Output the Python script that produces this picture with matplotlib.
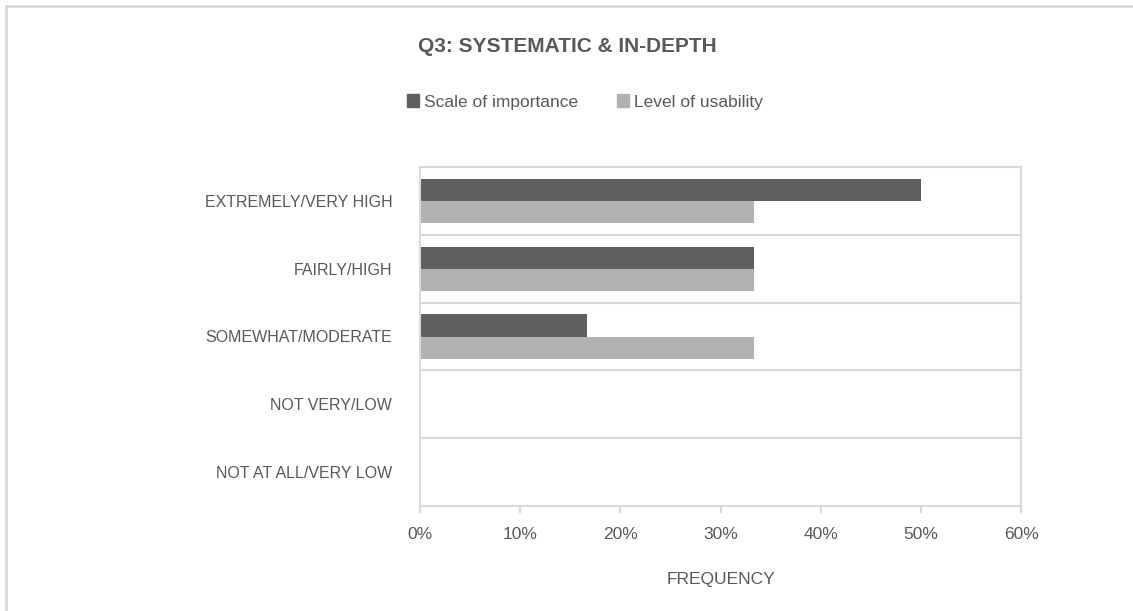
import matplotlib
matplotlib.use("Agg")
import matplotlib.pyplot as plt
from matplotlib.lines import Line2D
from matplotlib.patches import Patch
from matplotlib.ticker import FixedLocator, PercentFormatter
import numpy as np

categories = [
    "EXTREMELY/VERY HIGH",
    "FAIRLY/HIGH",
    "SOMEWHAT/MODERATE",
    "NOT VERY/LOW",
    "NOT AT ALL/VERY LOW",
]
importance = [50.0, 33.3, 16.7, 0.0, 0.0]
usability = [33.3, 33.3, 33.3, 0.0, 0.0]
series_names = ["Scale of importance", "Level of usability"]
x_ticks = [0, 10, 20, 30, 40, 50, 60]

DARK = "#5f5f5f"
LIGHT = "#b2b2b2"
TEXT = "#595959"
LINE = "#d9d9d9"

plt.rcParams["font.family"] = ["Liberation Sans Narrow", "Liberation Sans", "DejaVu Sans"]

fig = plt.figure(figsize=(11.33, 6.11), dpi=100)
ax = fig.add_axes([420 / 1133, 105 / 611, 601 / 1133, 339 / 611])

y = np.arange(len(categories))
h = 0.325
ax.barh(y - h / 2, importance, height=h, color=DARK, label=series_names[0])
ax.barh(y + h / 2, usability, height=h, color=LIGHT, label=series_names[1])

ax.set_xlim(0, 60)
ax.set_ylim(len(categories) - 0.5, -0.5)
ax.xaxis.set_major_locator(FixedLocator(x_ticks))
ax.xaxis.set_major_formatter(PercentFormatter(decimals=0))
ax.set_yticks(y)
ax.set_yticklabels(categories, fontsize=11.5, color=TEXT,
                   family=["Liberation Sans", "DejaVu Sans"])
ax.yaxis.set_minor_locator(FixedLocator(np.arange(len(categories)) + 0.5))
ax.grid(True, which="minor", axis="y", color=LINE, lw=1.5)
ax.set_axisbelow(True)

ax.tick_params(axis="y", which="both", length=0, pad=20)
ax.tick_params(axis="x", length=5, width=1.5, color=LINE, labelsize=12.5,
               labelcolor=TEXT, pad=10)
for side in ax.spines.values():
    side.set_color(LINE)
    side.set_linewidth(1.5)

ax.set_xlabel("FREQUENCY", fontsize=12.5, color=TEXT, labelpad=22)

fig.text(567 / 1133, 1 - 47 / 611, "Q3: SYSTEMATIC & IN-DEPTH",
         ha="center", va="center", fontsize=15, fontweight="bold", color=TEXT,
         family=["Liberation Sans", "DejaVu Sans"])

handles = [Patch(color=DARK), Patch(color=LIGHT)]
fig.legend(handles, series_names, loc="center", bbox_to_anchor=(585 / 1133, 1 - 102 / 611),
           ncol=2, frameon=False, fontsize=12.5, labelcolor=TEXT,
           handlelength=0.7, handleheight=0.7, handletextpad=0.3, columnspacing=2.2)

# outer chart frame (top and left edges visible)
fx = 6 / 1133
fy = 1 - 6 / 611
fig.add_artist(Line2D([fx, 1], [fy, fy], transform=fig.transFigure, color=LINE, lw=2))
fig.add_artist(Line2D([fx, fx], [0, fy], transform=fig.transFigure, color=LINE, lw=2))

fig.savefig("out.png", dpi=100, facecolor="white")
